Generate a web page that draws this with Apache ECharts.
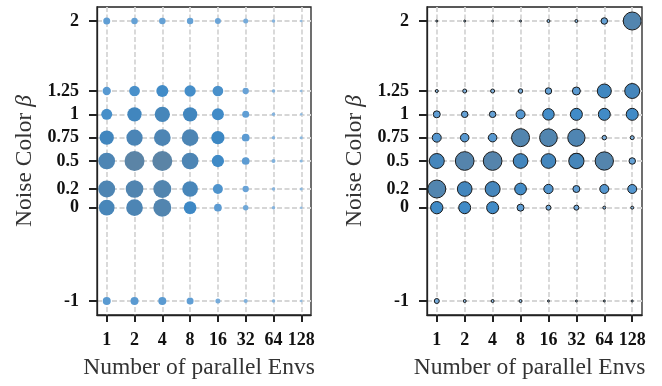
<!DOCTYPE html>
<html>
<head>
<meta charset="utf-8">
<script src="https://cdn.jsdelivr.net/npm/echarts@6/dist/echarts.min.js"></script>
<style>
  html, body { margin: 0; padding: 0; background: #fff; }
  #main { width: 662px; height: 386px; }
</style>
</head>
<body>
<div id="main"></div>
<script>
// x categories (number of parallel envs)
var envLabels = ["1", "2", "4", "8", "16", "32", "64", "128"];
// noise color beta, one row of weights per beta (top to bottom)
var betaValues = [2, 1.25, 1, 0.75, 0.5, 0.2, 0, -1];

// left panel weights (row = beta, col = envs)
var leftWeights = [
  [7, 6.5, 6.5, 6.5, 6, 5, 3.5, 2.5],
  [8.3, 10.7, 12, 11.3, 10.7, 6.3, 3.5, 2.5],
  [11, 14.3, 15.3, 14.3, 12, 7, 3.5, 2.5],
  [14.3, 16.3, 16.7, 16.7, 13.3, 7.7, 3.5, 3],
  [16.7, 20, 20, 16.7, 12.3, 7.7, 4, 3],
  [17, 17.7, 18, 15.7, 10, 6.3, 3.5, 3],
  [15.7, 16.7, 18, 12.7, 7.7, 5.5, 3.5, 2.5],
  [8, 8, 8, 7, 5, 4, 3.5, 2.5]
];

// right panel weights
var rightWeights = [
  [2, 2, 2, 2, 3, 3, 6.5, 18],
  [3, 4, 4, 4.5, 6.5, 8, 14, 15],
  [7, 6.5, 6.5, 9, 11.5, 12, 12, 12],
  [9, 8.5, 8.5, 18, 17.7, 17.3, 4.5, 4],
  [15, 18.7, 18.7, 14.7, 14.7, 15.3, 18.3, 6.5],
  [18, 14.7, 15, 11.7, 9.3, 7, 9, 9],
  [12.3, 12, 12, 7, 5, 5, 3, 3],
  [5, 3, 3, 3, 2, 2, 2, 2]
];

function toPoints(weights) {
  var pts = [];
  for (var r = 0; r < betaValues.length; r++) {
    for (var c = 0; c < envLabels.length; c++) {
      pts.push([c, betaValues[r], weights[r][c]]);
    }
  }
  return pts;
}

// colour ramp by weight: pale blue -> bright blue -> greyish steel blue
var ramp = [
  [2, [150, 190, 226]],
  [7, [96, 158, 212]],
  [13, [59, 135, 196]],
  [17, [78, 133, 179]],
  [20, [91, 132, 166]]
];
function colorFor(w) {
  if (w <= ramp[0][0]) return "rgb(" + ramp[0][1].join(",") + ")";
  for (var i = 1; i < ramp.length; i++) {
    if (w <= ramp[i][0]) {
      var a = ramp[i - 1], b = ramp[i];
      var t = (w - a[0]) / (b[0] - a[0]);
      var c = a[1].map(function (v, k) { return Math.round(v + (b[1][k] - v) * t); });
      return "rgb(" + c.join(",") + ")";
    }
  }
  return "rgb(" + ramp[ramp.length - 1][1].join(",") + ")";
}

var serif = "Liberation Serif";
var gridLine = { show: true, lineStyle: { color: "#d6d6d6", width: 1.8, type: [5, 2.5] } };
var axisEdge = { show: true, onZero: false, lineStyle: { color: "#222", width: 1.3 } };

function xAxisFor(gi) {
  return {
    type: "value", gridIndex: gi, min: -0.35, max: 7.35,
    name: "Number of parallel Envs", nameLocation: "middle", nameGap: 41,
    nameTextStyle: { fontFamily: serif, fontSize: 23.5, color: "#333", padding: [0, 10, 0, 0] },
    axisLine: axisEdge,
    axisTick: { show: true, length: 7, customValues: [0, 1, 2, 3, 4, 5, 6, 7], lineStyle: { color: "#222", width: 2 } },
    axisLabel: {
      customValues: [0, 1, 2, 3, 4, 5, 6, 7], margin: 16,
      fontFamily: serif, fontWeight: "bold", fontSize: 18, color: "#111",
      formatter: function (v) { return envLabels[Math.round(v)]; }
    },
    splitLine: gridLine
  };
}
function yAxisFor(gi) {
  return {
    type: "value", gridIndex: gi, min: -1.15, max: 2.15,
    name: "Noise Color {b|β}", nameLocation: "middle", nameGap: 60,
    nameTextStyle: {
      fontFamily: serif, fontSize: 23.5, color: "#333",
      rich: { b: { fontFamily: serif, fontSize: 23.5, fontStyle: "italic", color: "#333" } }
    },
    axisLine: axisEdge,
    axisTick: { show: true, length: 8, customValues: betaValues, lineStyle: { color: "#222", width: 2 } },
    axisLabel: {
      customValues: betaValues, margin: 18,
      fontFamily: serif, fontWeight: "bold", fontSize: 18, color: "#111"
    },
    splitLine: gridLine
  };
}

function seriesFor(gi, weights, edge) {
  return {
    type: "scatter", xAxisIndex: gi, yAxisIndex: gi,
    data: toPoints(weights),
    symbolSize: function (v) { return v[2]; },
    itemStyle: {
      color: function (p) { return colorFor(p.data[2]); },
      opacity: 1,
      borderColor: edge ? "#1a1a1a" : "transparent",
      borderWidth: edge ? 1 : 0
    },
    emphasis: { disabled: true },
    z: 3
  };
}

var chart = echarts.init(document.getElementById("main"));
chart.setOption({
  animation: false,
  grid: [
    { left: 97, right: 351, top: 7, bottom: 71, show: true, borderColor: "#222", borderWidth: 1.3, backgroundColor: "transparent" },
    { left: 427, right: 20, top: 7, bottom: 71, show: true, borderColor: "#222", borderWidth: 1.3, backgroundColor: "transparent" }
  ],
  xAxis: [xAxisFor(0), xAxisFor(1)],
  yAxis: [yAxisFor(0), yAxisFor(1)],
  series: [seriesFor(0, leftWeights, false), seriesFor(1, rightWeights, true)]
});
</script>
</body>
</html>
